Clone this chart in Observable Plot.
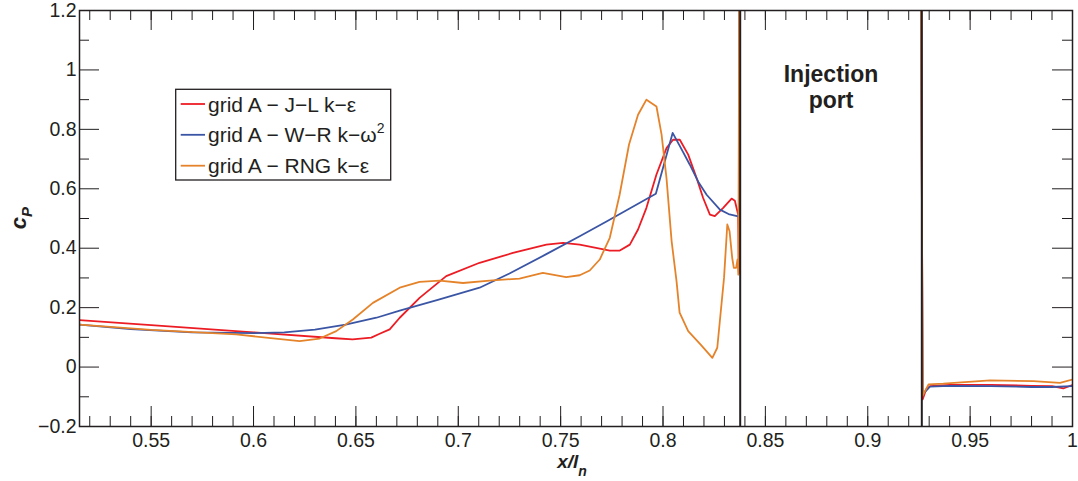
<!DOCTYPE html>
<html><head><meta charset="utf-8">
<script src="https://cdn.jsdelivr.net/npm/d3@7"></script>
<script src="https://cdn.jsdelivr.net/npm/@observablehq/plot@0.6"></script>
<style>body{margin:0;background:#fff} #chart{width:1078px;height:481px}</style>
</head><body><div id="chart"></div>
<script>
// ---- data ----
const seriesNames = ["grid A − J−L k−ε", "grid A − W−R k−ω", "grid A − RNG k−ε"];
const seriesColors = ["#ec1c24", "#3b55a5", "#e5832b"];

const jlX = [0.515,0.55,0.6,0.64,0.6484,0.6575,0.6616,0.6665,0.6714,0.6811,0.6941,0.7104,0.7267,0.743,0.7512,0.7593,0.774,0.7789,0.7838,0.7878,0.7919,0.7968,0.8017,0.8049,0.8082,0.8123,0.8164,0.8196,0.8229,0.8253,0.8294,0.8335,0.8351,0.8367,0.8371,0.8373, NaN, 0.926,0.9268,0.9285,0.9304,0.94,0.96,0.98,0.99,0.9955,1.0];
const jlY = [0.158,0.141,0.117,0.097,0.093,0.099,0.112,0.127,0.166,0.233,0.306,0.351,0.384,0.412,0.418,0.412,0.392,0.392,0.412,0.463,0.536,0.648,0.737,0.765,0.765,0.715,0.636,0.569,0.513,0.508,0.536,0.567,0.56,0.513,0.317,1.4, NaN, 1.4,-0.109,-0.075,-0.064,-0.06,-0.06,-0.063,-0.064,-0.072,-0.06];

const wrX = [0.515,0.54,0.57,0.6,0.615,0.63,0.645,0.66,0.6714,0.69,0.7104,0.725,0.743,0.7593,0.7724,0.7965,0.8047,0.8085,0.8131,0.8175,0.8213,0.8278,0.832,0.8367,0.8371,0.8373, NaN, 0.926,0.9268,0.9304,0.94,0.96,0.98,0.99,1.0];
const wrY = [0.143,0.128,0.117,0.114,0.117,0.126,0.143,0.166,0.19,0.226,0.267,0.315,0.38,0.44,0.49,0.583,0.788,0.74,0.681,0.62,0.58,0.53,0.515,0.507,0.507,1.4, NaN, 1.4,-0.092,-0.066,-0.063,-0.064,-0.067,-0.067,-0.064];

const rngX = [0.515,0.55,0.5915,0.6225,0.6323,0.6404,0.6485,0.6583,0.6714,0.6811,0.6909,0.7023,0.7153,0.7299,0.7413,0.7527,0.7593,0.7642,0.7691,0.774,0.7788,0.7834,0.7878,0.7919,0.7968,0.7993,0.8017,0.8042,0.8066,0.8081,0.8123,0.8185,0.8241,0.8265,0.8298,0.8314,0.8325,0.8338,0.8346,0.8357,0.8364,0.8368,0.8373, NaN, 0.926,0.9268,0.9297,0.9369,0.9597,0.9809,0.9939,1.0];
const rngY = [0.143,0.125,0.11,0.087,0.096,0.121,0.16,0.216,0.267,0.287,0.291,0.283,0.291,0.298,0.317,0.303,0.309,0.325,0.362,0.435,0.58,0.749,0.849,0.9,0.877,0.782,0.636,0.424,0.289,0.183,0.121,0.075,0.031,0.065,0.30,0.48,0.457,0.367,0.334,0.334,0.362,0.311,1.4, NaN, 1.4,-0.096,-0.058,-0.056,-0.045,-0.047,-0.053,-0.042];

const portEdges = [0.8377, 0.9264];
const portLabel = "Injection\nport";
const portLabelY = 1.024;

const xMajor = [0.55,0.6,0.65,0.7,0.75,0.8,0.85,0.9,0.95,1.0];
const xMajorLabels = ["0.55","0.6","0.65","0.7","0.75","0.8","0.85","0.9","0.95","1"];
const yMajor = [-0.2,0,0.2,0.4,0.6,0.8,1.0,1.2];
const yMajorLabels = ["−0.2","0","0.2","0.4","0.6","0.8","1","1.2"];
const xMinor = d3.range(52, 100).map(d => d / 100);
const yMinor = [-0.1,0.1,0.3,0.5,0.7,0.9,1.1];

// ---- build ----
const W = 1078, H = 481, mL = 79, mR = 6, mT = 10, mB = 55;
const iW = W - mL - mR, iH = H - mT - mB;
const ink = "#231f20";
const font = "'Liberation Sans', Arial, Helvetica, sans-serif";

const rows = (xs, ys, s) => xs.map((x, i) => ({x, y: ys[i], s}));
const jl = rows(jlX, jlY, 0), wr = rows(wrX, wrY, 1), rng = rows(rngX, rngY, 2);

const lineOpts = (c) => ({x: "x", y: "y", stroke: c, strokeWidth: 1.8, clip: true, curve: "linear"});

const svg = Plot.plot({
  width: W, height: H,
  marginLeft: mL, marginRight: mR, marginTop: mT, marginBottom: mB,
  style: {fontFamily: font, background: "white", color: ink},
  x: {domain: [0.515, 1.0], axis: null},
  y: {domain: [-0.2, 1.2], axis: null},
  marks: [
    Plot.line(jl, lineOpts(seriesColors[0])),
    Plot.line(wr, lineOpts(seriesColors[1])),
    Plot.line(rng, lineOpts(seriesColors[2])),
    Plot.ruleX(portEdges, {x: d => d, stroke: ink, strokeWidth: 2}),
    // inward ticks: bottom & top
    Plot.ruleX(xMinor, {x: d => d, insetTop: iH - 10, stroke: ink, strokeWidth: 1}),
    Plot.ruleX(xMinor, {x: d => d, insetBottom: iH - 10, stroke: ink, strokeWidth: 1}),
    Plot.ruleX(xMajor, {x: d => d, insetTop: iH - 20, stroke: ink, strokeWidth: 1}),
    Plot.ruleX(xMajor, {x: d => d, insetBottom: iH - 20, stroke: ink, strokeWidth: 1}),
    // inward ticks: left & right
    Plot.ruleY(yMinor, {y: d => d, insetRight: iW - 10, stroke: ink, strokeWidth: 1}),
    Plot.ruleY(yMinor, {y: d => d, insetLeft: iW - 10, stroke: ink, strokeWidth: 1}),
    Plot.ruleY(yMajor, {y: d => d, insetRight: iW - 20, stroke: ink, strokeWidth: 1}),
    Plot.ruleY(yMajor, {y: d => d, insetLeft: iW - 20, stroke: ink, strokeWidth: 1}),
    Plot.frame({stroke: ink, strokeWidth: 1.5}),
    // tick labels
    Plot.text(xMajor, {x: d => d, frameAnchor: "bottom", lineAnchor: "top", dy: 7,
      text: (d, i) => xMajorLabels[i], fontSize: 19.5, fill: ink}),
    Plot.text(yMajor, {y: d => d, frameAnchor: "left", textAnchor: "end", dx: -3,
      text: (d, i) => yMajorLabels[i], fontSize: 19.5, fill: ink}),
    // annotation
    Plot.text([portLabel], {x: (portEdges[0] + portEdges[1]) / 2, y: portLabelY, text: d => d,
      lineAnchor: "top", lineHeight: 1.16, fontSize: 23, fontWeight: "bold", fill: ink})
  ]
});

const s = d3.select(svg);
// axis labels
const yl = s.append("text").attr("transform", "translate(26,218) rotate(-90)")
  .attr("text-anchor", "middle")
  .attr("font-family", font).attr("font-weight", "bold").attr("font-style", "italic")
  .attr("fill", ink).attr("font-size", 22);
yl.append("tspan").text("c");
yl.append("tspan").attr("font-size", 15).attr("dy", 6).text("P");

const xl = s.append("text").attr("x", 572).attr("y", 468)
  .attr("text-anchor", "middle")
  .attr("font-family", font).attr("font-weight", "bold").attr("font-style", "italic")
  .attr("fill", ink).attr("font-size", 19);
xl.append("tspan").text("x/l");
xl.append("tspan").attr("font-size", 14).attr("dy", 8).text("n");

// legend
const lg = s.append("g");
lg.append("rect").attr("x", 175.7).attr("y", 89.3).attr("width", 215).attr("height", 90.7)
  .attr("fill", "white").attr("stroke", ink).attr("stroke-width", 1.3);
const rowY = [104, 134.8, 165.7];
seriesNames.forEach((name, i) => {
  lg.append("line").attr("x1", 180.7).attr("x2", 205).attr("y1", rowY[i]).attr("y2", rowY[i])
    .attr("stroke", seriesColors[i]).attr("stroke-width", 1.8);
  const t = lg.append("text").attr("x", 208).attr("y", rowY[i]).attr("dy", "0.36em")
    .attr("text-anchor", "start")
    .attr("font-family", font).attr("font-size", 21).attr("fill", ink).text(name);
  if (i === 1) t.append("tspan").attr("font-size", 14).attr("dy", -9).text("2");
});

document.getElementById("chart").appendChild(svg);
</script>
</body></html>
